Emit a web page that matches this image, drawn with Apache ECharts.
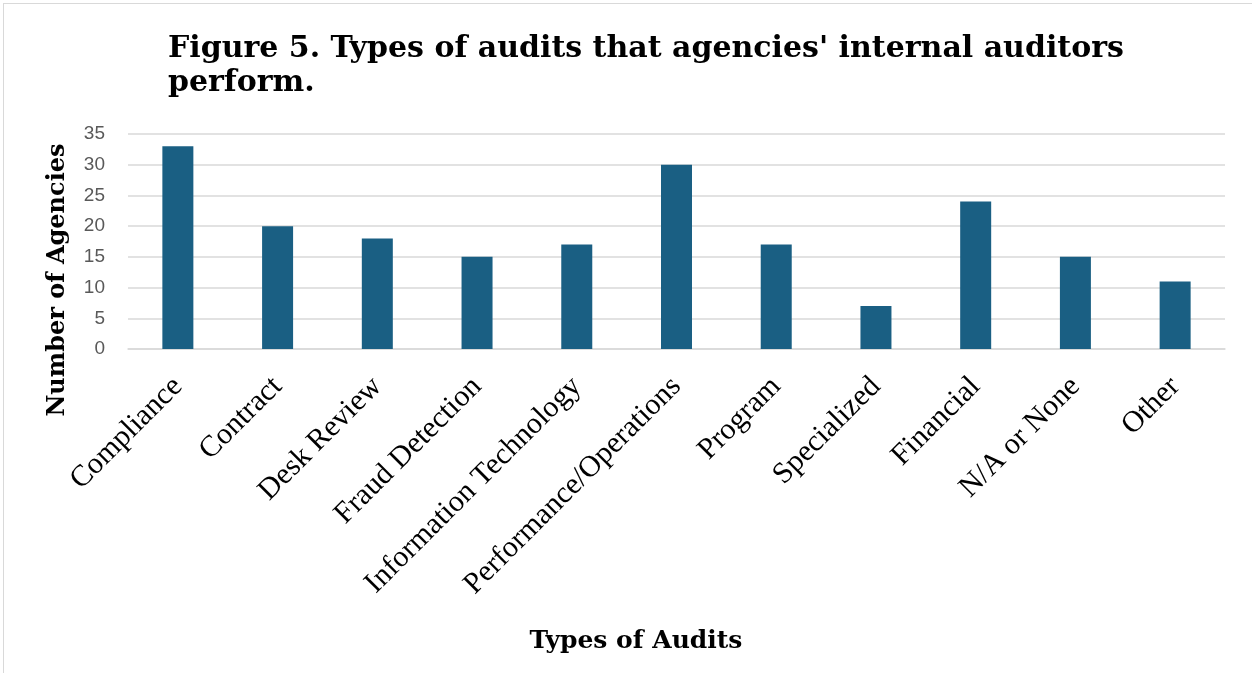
<!DOCTYPE html>
<html>
<head>
<meta charset="utf-8">
<script src="https://cdn.jsdelivr.net/npm/echarts@6/dist/echarts.min.js"></script>
<style>
  html, body { margin: 0; padding: 0; background: #fff; overflow: hidden; }
  #frame { position: absolute; left: 3px; top: 3px; width: 1270px; height: 690px; border: 1px solid #d9d9d9; }
  #chart { position: absolute; left: 0; top: 0; width: 1252px; height: 673px; }
</style>
</head>
<body>
<div id="frame"></div>
<div id="chart"></div>
<script>
var categories = ['Compliance', 'Contract', 'Desk Review', 'Fraud Detection', 'Information Technology',
  'Performance/Operations', 'Program', 'Specialized', 'Financial', 'N/A or None', 'Other'];
var agencies = [33, 20, 18, 15, 17, 30, 17, 7, 24, 15, 11];

var serif = '"DejaVu Serif", serif';

echarts.init(document.getElementById('chart')).setOption({
  animation: false,
  title: {
    text: "Figure 5. Types of audits that agencies' internal auditors\nperform.",
    left: 163,
    top: 27,
    textStyle: {
      fontFamily: serif,
      fontWeight: 'bold',
      fontSize: 30,
      lineHeight: 34,
      color: '#000'
    }
  },
  grid: {
    left: 128,
    right: 27,
    top: 134,
    bottom: 324
  },
  xAxis: {
    type: 'category',
    data: categories,
    axisLine: { lineStyle: { color: '#d9d9d9', width: 1.5 } },
    axisTick: { show: false },
    axisLabel: {
      rotate: 45,
      interval: 0,
      margin: 33,
      fontFamily: '"Liberation Serif", serif',
      fontSize: 30,
      color: '#000'
    }
  },
  yAxis: {
    type: 'value',
    min: 0,
    max: 35,
    interval: 5,
    axisLine: { show: false },
    axisTick: { show: false },
    splitLine: { lineStyle: { color: '#d9d9d9', width: 1.5 } },
    axisLabel: {
      margin: 23,
      fontFamily: '"Liberation Sans", Arial, sans-serif',
      fontSize: 19,
      color: '#595959'
    }
  },
  graphic: [
    {
      type: 'text',
      x: 58,
      y: 280,
      rotation: Math.PI / 2,
      style: {
        text: 'Number of Agencies',
        fontFamily: serif,
        fontWeight: 'bold',
        fontSize: 24,
        fill: '#000',
        align: 'center',
        verticalAlign: 'middle'
      }
    },
    {
      type: 'text',
      x: 636,
      y: 641,
      style: {
        text: 'Types of Audits',
        fontFamily: serif,
        fontWeight: 'bold',
        fontSize: 25,
        fill: '#000',
        align: 'center',
        verticalAlign: 'middle'
      }
    }
  ],
  series: [
    {
      type: 'bar',
      data: agencies,
      barWidth: 31,
      itemStyle: { color: '#1a5f83' }
    }
  ]
});
</script>
</body>
</html>
